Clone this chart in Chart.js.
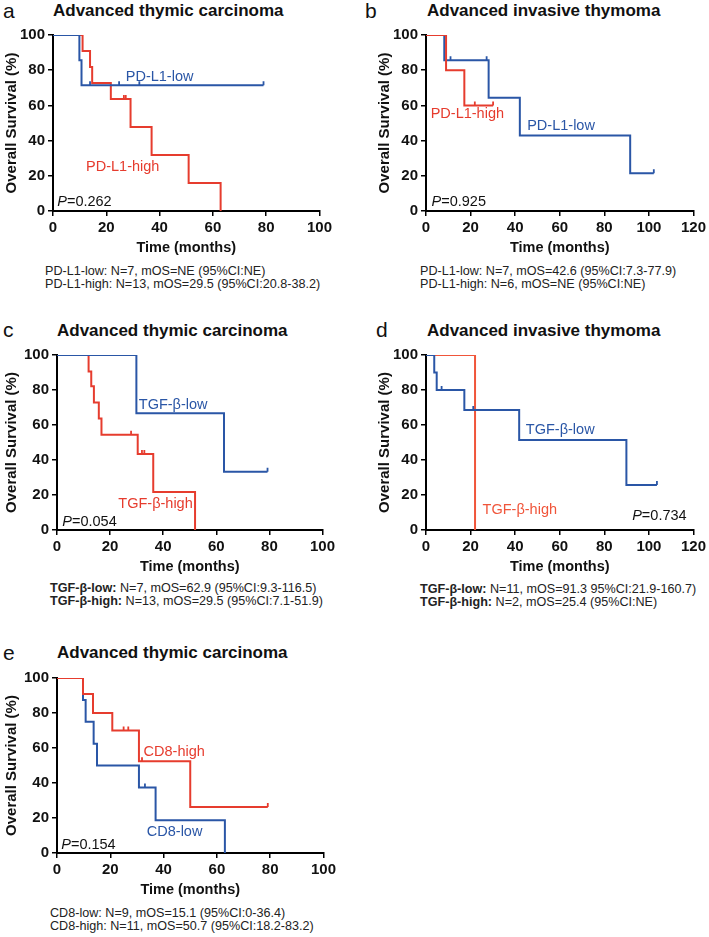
<!DOCTYPE html>
<html>
<head>
<meta charset="utf-8">
<script src="https://cdn.jsdelivr.net/npm/chart.js@4.4.1/dist/chart.umd.min.js"></script>
<style>
body{margin:0;background:#fff;width:709px;height:937px;position:relative;overflow:hidden;font-family:Arial,"Liberation Sans",sans-serif;color:#111;}
canvas{position:absolute;}
.ttl{position:absolute;font-weight:bold;font-size:17px;line-height:17px;white-space:nowrap;}
.let{position:absolute;font-size:21px;line-height:21px;}
.note{position:absolute;font-size:12.6px;line-height:13px;white-space:nowrap;color:#222;}
</style>
</head>
<body>

<div class="let" style="left:3px;top:0px">a</div>
<div class="ttl" style="left:53px;top:2px">Advanced thymic carcinoma</div>
<canvas id="chartA" style="left:0px;top:23px" width="335" height="234"></canvas>
<div class="note" style="left:45px;top:265px">PD-L1-low: N=7, mOS=NE (95%CI:NE)<br>PD-L1-high: N=13, mOS=29.5 (95%CI:20.8-38.2)</div>

<div class="let" style="left:365px;top:0px">b</div>
<div class="ttl" style="left:427px;top:2px">Advanced invasive thymoma</div>
<canvas id="chartB" style="left:373px;top:23px" width="336" height="234"></canvas>
<div class="note" style="left:420px;top:265px">PD-L1-low: N=7, mOS=42.6 (95%CI:7.3-77.9)<br>PD-L1-high: N=6, mOS=NE (95%CI:NE)</div>

<div class="let" style="left:3px;top:319px">c</div>
<div class="ttl" style="left:57px;top:322px">Advanced thymic carcinoma</div>
<canvas id="chartC" style="left:0px;top:343px" width="338" height="233"></canvas>
<div class="note" style="left:50px;top:582px"><b>TGF-β-low:</b> N=7, mOS=62.9 (95%CI:9.3-116.5)<br><b>TGF-β-high:</b> N=13, mOS=29.5 (95%CI:7.1-51.9)</div>

<div class="let" style="left:376px;top:319px">d</div>
<div class="ttl" style="left:427px;top:322px">Advanced invasive thymoma</div>
<canvas id="chartD" style="left:373px;top:343px" width="336" height="233"></canvas>
<div class="note" style="left:420px;top:583px"><b>TGF-β-low:</b> N=11, mOS=91.3 95%CI:21.9-160.7)<br><b>TGF-β-high:</b> N=2, mOS=25.4 (95%CI:NE)</div>

<div class="let" style="left:3px;top:642px">e</div>
<div class="ttl" style="left:57px;top:644px">Advanced thymic carcinoma</div>
<canvas id="chartE" style="left:0px;top:666px" width="339" height="233"></canvas>
<div class="note" style="left:50px;top:907px">CD8-low: N=9, mOS=15.1 (95%CI:0-36.4)<br>CD8-high: N=11, mOS=50.7 (95%CI:18.2-83.2)</div>

<script>
const RED = "#e63c2e";
const BLUE = "#2a56a6";

// panel a: PD-L1, thymic carcinoma
const aLowTime = [0, 9.9, 10.7, 79];
const aLowSurv = [100, 85.7, 71.4, 71.4];
const aLowCens = [13.9, 24.8, 32.4, 79];
const aHighTime = [0, 11.1, 13.9, 14.7, 21.7, 29.1, 37, 50.9, 62.9];
const aHighSurv = [100, 90.9, 81.8, 72.7, 63.6, 47.7, 31.8, 15.9, 0];
const aHighCens = [4.1, 26.6, 27.3];

// panel b: PD-L1, invasive thymoma
const bLowTime = [0, 8.2, 28.1, 42.1, 91.6, 102.2];
const bLowSurv = [100, 85.7, 64.3, 42.9, 21.4, 21.4];
const bLowCens = [11, 27.2, 102.2];
const bHighTime = [0, 9, 17.2, 30.1];
const bHighSurv = [100, 80, 60, 60];
const bHighCens = [4.5, 21.9, 30.1];

// panel c: TGF-beta, thymic carcinoma
const cLowTime = [0, 29.9, 62.9, 79.3];
const cLowSurv = [100, 66.7, 33.3, 33.3];
const cLowCens = [5, 15, 24.75, 25.75, 79.3];
const cHighTime = [0, 11.9, 12.9, 13.9, 15.75, 16.75, 30.4, 36.25, 52];
const cHighSurv = [100, 90.6, 82.2, 72.8, 63.7, 54.4, 43.5, 21.7, 0];
const cHighCens = [27.9, 32, 32.9];

// panel d: TGF-beta, invasive thymoma
const dLowTime = [0, 3.7, 4.8, 17.2, 41.8, 89.9, 103.6];
const dLowSurv = [100, 90, 80, 68.6, 51.4, 25.7, 25.7];
const dLowCens = [2.1, 7, 21.2, 103.6];
const dHighTime = [0, 22];
const dHighSurv = [100, 0];
const dHighCens = [];

// panel e: CD8, thymic carcinoma
const eLowTime = [0, 9.75, 10.75, 13.75, 15, 30.75, 37, 63];
const eLowSurv = [100, 87.5, 75, 62.5, 50, 37.5, 18.75, 0];
const eLowCens = [2.9, 33];
const eHighTime = [0, 9.75, 13.5, 20.75, 30.75, 50, 79.1];
const eHighSurv = [100, 90.9, 80, 70, 52.5, 26.3, 26.3];
const eHighCens = [25, 26.75, 31.9, 79.1];

const yTicks = [0, 20, 40, 60, 80, 100];

function survAt(times, surv, t) {
    let s = surv[0];
    times.forEach((tt, i) => {
        if (tt <= t) s = surv[i];
    });
    return s;
}

function curveSets(times, surv, cens, color) {
    return [
        {
            data: times.map((t, i) => ({x: t, y: surv[i]})),
            showLine: true,
            stepped: true,
            borderColor: color,
            borderWidth: 2,
            pointRadius: 0
        },
        {
            data: cens.map(t => ({x: t, y: survAt(times, surv, t)})),
            showLine: false,
            pointStyle: "dash",
            rotation: 270,
            pointRadius: 4,
            borderColor: color,
            borderWidth: 1.8,
            backgroundColor: color
        }
    ];
}

const curveText = {
    id: "curveText",
    afterDatasetsDraw(chart, args, opts) {
        const ctx = chart.ctx;
        const xs = chart.scales.x;
        const ys = chart.scales.y;
        (opts.items || []).forEach(it => {
            ctx.save();
            ctx.textBaseline = "middle";
            ctx.fillStyle = it.color;
            let x = xs.getPixelForValue(it.x);
            const y = ys.getPixelForValue(it.y);
            if (it.p) {
                ctx.font = "italic 14.5px Arial";
                ctx.fillText("P", x, y);
                x += ctx.measureText("P").width;
            }
            ctx.font = "14.5px Arial";
            ctx.fillText(it.text, x, y);
            ctx.restore();
        });
    }
};

function makeKM(id, xMax, yWidth, datasets, items) {
    const axisGrid = {
        display: true,
        drawOnChartArea: false,
        drawTicks: true,
        tickLength: 5,
        color: "#000",
        lineWidth: 1.5
    };
    new Chart(document.getElementById(id), {
        type: "scatter",
        data: {datasets},
        options: {
            responsive: false,
            animation: false,
            events: [],
            layout: {padding: {top: 10, right: 15, left: 0, bottom: 0}},
            plugins: {
                legend: {display: false},
                tooltip: {enabled: false},
                curveText: {items}
            },
            scales: {
                x: {
                    type: "linear",
                    min: 0,
                    max: xMax,
                    border: {color: "#000", width: 2},
                    grid: axisGrid,
                    ticks: {
                        stepSize: 20,
                        padding: 3,
                        color: "#111",
                        font: {family: "Arial", size: 15, weight: "bold"}
                    },
                    title: {
                        display: true,
                        text: "Time (months)",
                        color: "#111",
                        padding: {top: 0, bottom: 0},
                        font: {family: "Arial", size: 14.5, weight: "bold"}
                    },
                    afterFit: s => { s.height = 46; }
                },
                y: {
                    type: "linear",
                    min: 0,
                    max: 100,
                    border: {color: "#000", width: 2},
                    grid: axisGrid,
                    afterBuildTicks: s => { s.ticks = yTicks.map(v => ({value: v})); },
                    ticks: {
                        padding: 3,
                        color: "#111",
                        font: {family: "Arial", size: 15, weight: "bold"}
                    },
                    title: {
                        display: true,
                        text: "Overall Survival (%)",
                        color: "#111",
                        padding: {top: 3, bottom: 0},
                        font: {family: "Arial", size: 15, weight: "bold"}
                    },
                    afterFit: s => { s.width = yWidth; }
                }
            }
        },
        plugins: [curveText]
    });
}

makeKM("chartA", 100, 53,
    [...curveSets(aLowTime, aLowSurv, aLowCens, BLUE),
     ...curveSets(aHighTime, aHighSurv, aHighCens, RED)],
    [
        {text: "PD-L1-low", x: 27.3, y: 76.4, color: BLUE},
        {text: "PD-L1-high", x: 12.4, y: 24.9, color: RED},
        {text: "=0.262", x: 1.6, y: 5.2, color: "#111", p: true}
    ]);

makeKM("chartB", 120, 53,
    [...curveSets(bHighTime, bHighSurv, bHighCens, RED),
     ...curveSets(bLowTime, bLowSurv, bLowCens, BLUE)],
    [
        {text: "PD-L1-high", x: 2.1, y: 55.2, color: RED},
        {text: "PD-L1-low", x: 45.4, y: 48.3, color: BLUE},
        {text: "=0.925", x: 2.5, y: 5.2, color: "#111", p: true}
    ]);

makeKM("chartC", 100, 57,
    [...curveSets(cLowTime, cLowSurv, cLowCens, BLUE),
     ...curveSets(cHighTime, cHighSurv, cHighCens, RED)],
    [
        {text: "TGF-β-low", x: 30.8, y: 71.6, color: BLUE},
        {text: "TGF-β-high", x: 23.1, y: 15, color: RED},
        {text: "=0.054", x: 2, y: 4.7, color: "#111", p: true}
    ]);

makeKM("chartD", 120, 53,
    [...curveSets(dLowTime, dLowSurv, dLowCens, BLUE),
     ...curveSets(dHighTime, dHighSurv, dHighCens, "#f0553a")],
    [
        {text: "TGF-β-low", x: 44.8, y: 56.9, color: BLUE},
        {text: "TGF-β-high", x: 25.4, y: 11.7, color: "#f0553a"},
        {text: "=0.734", x: 92.5, y: 7.9, color: "#111", p: true}
    ]);

makeKM("chartE", 100, 57,
    [...curveSets(eHighTime, eHighSurv, eHighCens, RED),
     ...curveSets(eLowTime, eLowSurv, eLowCens, BLUE)],
    [
        {text: "CD8-high", x: 32.5, y: 57.6, color: RED},
        {text: "CD8-low", x: 33.7, y: 12, color: BLUE},
        {text: "=0.154", x: 1.6, y: 4.5, color: "#111", p: true}
    ]);
</script>
</body>
</html>
